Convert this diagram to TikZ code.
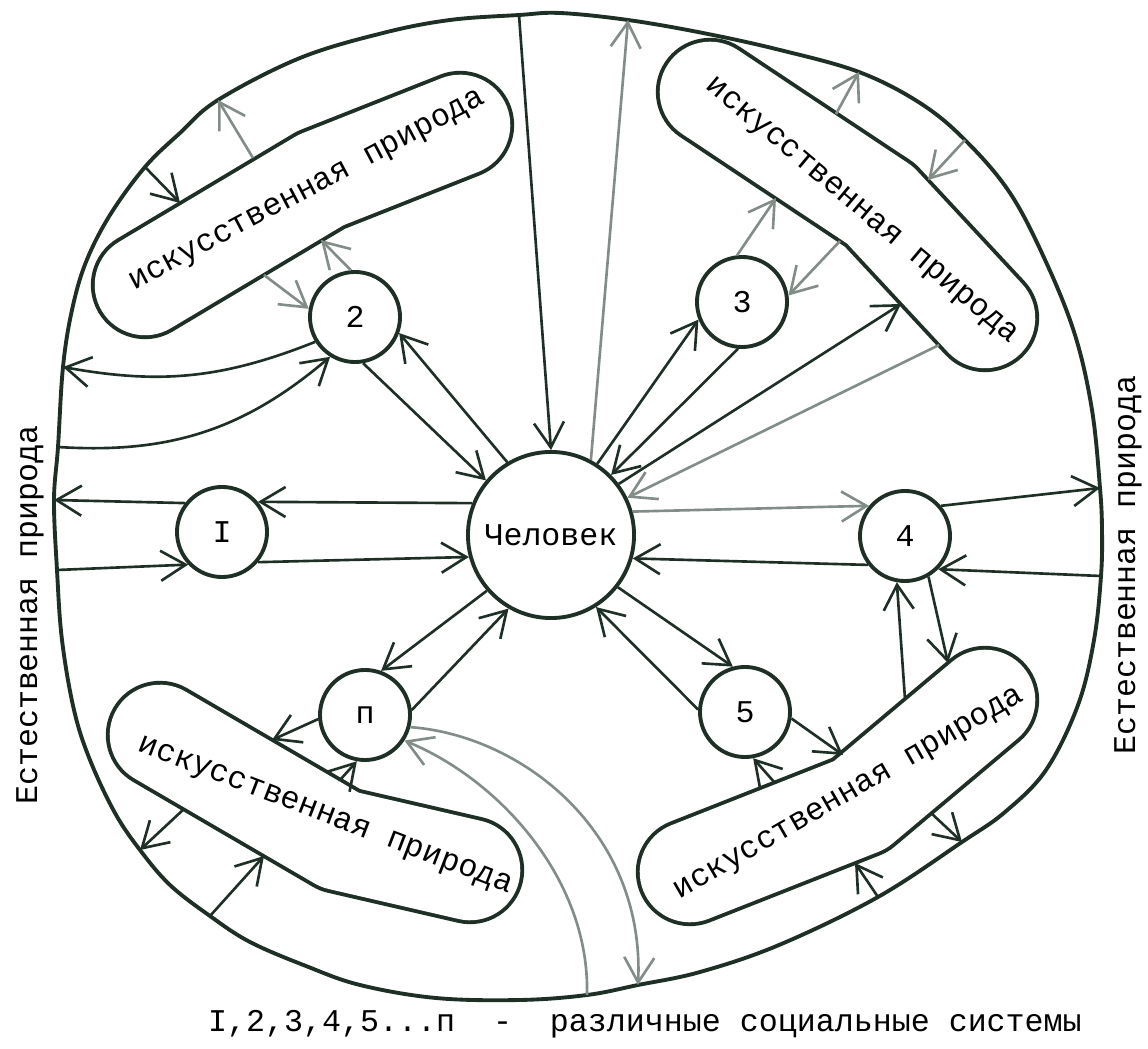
\documentclass[tikz,border=0pt]{standalone}
\usepackage{fontspec}
\setmainfont{Liberation Mono}
\usetikzlibrary{arrows.meta}
\definecolor{ink}{RGB}{30,48,38}

\begin{document}
\begin{tikzpicture}[
    x=0.01cm, y=0.01cm,
    font=\fontsize{9}{11}\selectfont,
    sys/.style={circle, draw=ink, line width=1.1pt, minimum size=0.9cm, inner sep=0pt},
    pill/.style={draw=ink, line width=1.1pt, double=white, double distance=28.6pt, line cap=round, line join=round},
    pilltext/.style={inner sep=0pt},
    rim/.style={draw=ink, line width=1.1pt},
    arrow/.style={-{Straight Barb[length=2.5mm,width=3mm]}, draw=ink, line width=0.75pt},
    faint/.style={arrow, draw=ink!55}
]
\useasboundingbox (0,0) rectangle (1148,-1049);

\draw[rim] plot[smooth cycle, tension=0.6] coordinates {
    (519,-15) (560,-13) (628,-20) (703,-33) (780,-50) (859,-72) (920,-103) (965,-140)
    (1010,-193) (1046,-262) (1075,-335) (1092,-410) (1100,-488) (1102,-530) (1101,-576)
    (1094,-640) (1078,-705) (1046,-770) (1005,-812) (962,-842) (878,-897) (779,-945)
    (700,-972) (638,-985) (587,-995) (520,-1000) (436,-998) (360,-985) (306,-966)
    (250,-942) (210,-916) (170,-885) (140,-850) (115,-813) (90,-760) (74,-710) (62,-640)
    (57,-570) (54,-500) (58,-447) (63,-367) (72,-310) (86,-262) (110,-215) (145,-167)
    (180,-133) (218,-100) (300,-58) (383,-33) (450,-20)};

\coordinate (bt1) at (519,-15);
\coordinate (bt2) at (628,-20);
\coordinate (b2out) at (218,-100);
\coordinate (b2in) at (145,-167);
\coordinate (b3out) at (859,-72);
\coordinate (b3in) at (965,-140);
\coordinate (bL2out) at (63,-367);
\coordinate (bL2in) at (58,-447);
\coordinate (bIout) at (54,-500);
\coordinate (bIin) at (57,-570);
\coordinate (b4out) at (1100,-488);
\coordinate (b4in) at (1101,-576);
\coordinate (bP4out) at (962,-842);
\coordinate (bP4in) at (878,-897);
\coordinate (bnout) at (638,-985);
\coordinate (bnin) at (587,-995);
\coordinate (bPnin) at (210,-916);
\coordinate (bPnout) at (140,-850);

\draw[pill] (145,-285) -- (321,-180) -- (460,-125);
\draw[pill] (710,-92) -- (880,-205) -- (985,-318);
\draw[pill] (690,-872) -- (860,-805) -- (985,-700);
\draw[pill] (160,-735) -- (340,-840) -- (470,-870);

\node[pilltext, rotate=28] (art2) at (308,-192) {искусственная природа};
\node[pilltext, rotate=-40] (art3) at (861,-212) {искусственная природа};
\node[pilltext, rotate=30] (art4) at (850,-795) {искусственная природа};
\node[pilltext, rotate=-21] (artn) at (325,-817) {искусственная природа};

\coordinate (p2q) at (321,-240);
\coordinate (p2r) at (264,-275);
\coordinate (p2ii) at (253,-158);
\coordinate (p2jj) at (180,-203);
\coordinate (p3w) at (776,-198);
\coordinate (p3x) at (840,-241);
\coordinate (p3e) at (901,-304);
\coordinate (p3f) at (939,-345);
\coordinate (p3kk) at (836,-114);
\coordinate (p3ll) at (928,-180);
\coordinate (p4aa) at (905,-699);
\coordinate (p4bb) at (948,-663);
\coordinate (p4cc) at (843,-755);
\coordinate (p4dd) at (775,-783);
\coordinate (p4out) at (931,-813);
\coordinate (p4in) at (855,-863);
\coordinate (pnee) at (272,-740);
\coordinate (pnff) at (340,-780);
\coordinate (pnout) at (184,-809);
\coordinate (pnin) at (264,-856);

\node[sys, minimum size=1.66cm] (hum) at (551,-535) {Человек};
\node[sys] (sysI) at (222,-532) {I};
\node[sys] (sys2) at (355,-317) {2};
\node[sys] (sys3) at (742,-302) {3};
\node[sys] (sys4) at (905,-536) {4};
\node[sys] (sys5) at (745,-712) {5};
\node[sys] (sysn) at (365,-715) {п};

\draw[arrow] (bt1) -- (hum.90);
\draw[faint] (hum.62) -- (bt2);
\draw[arrow] (hum.57) -- (sys3.202);
\draw[arrow] (sys3.265) -- (hum.45);
\draw[arrow] (hum.37) -- (p3e);
\draw[faint] (p3f) -- (hum.26);
\draw[faint] (hum.16) -- (sys4.140);
\draw[arrow] (sys4.218) -- (hum.-16);
\draw[arrow] (hum.-38) -- (sys5.105);
\draw[arrow] (sys5.177) -- (hum.-58);
\draw[arrow] (hum.221) -- (sysn.70);
\draw[arrow] (sysn.6) -- (hum.240);
\draw[arrow] (hum.158) -- (sysI.40);
\draw[arrow] (sysI.-40) -- (hum.195);
\draw[arrow] (sys2.-80) -- (hum.140);
\draw[arrow] (hum.121) -- (sys2.-20);

\draw[faint] (sys2.95) -- (p2q);
\draw[faint] (p2r) -- (sys2.170);
\draw[arrow] (sys2.212) to[bend left=16] (bL2out);
\draw[arrow] (bL2in) to[bend right=22] (sys2.238);
\draw[faint] (p2ii) -- (b2out);
\draw[arrow] (b2in) -- (p2jj);

\draw[arrow] (sysI.142) -- (bIout);
\draw[arrow] (bIin) -- (sysI.224);

\draw[faint] (sys3.96) -- (p3w);
\draw[faint] (p3x) -- (sys3.8);
\draw[faint] (p3kk) -- (b3out);
\draw[faint] (b3in) -- (p3ll);

\draw[arrow] (sys4.40) -- (b4out);
\draw[arrow] (b4in) -- (sys4.-45);
\draw[arrow] (p4aa) -- (sys4.-100);
\draw[arrow] (sys4.-60) -- (p4bb);

\draw[arrow] (sys5.-8) -- (p4cc);
\draw[arrow] (p4dd) -- (sys5.-80);
\draw[arrow] (p4out) -- (bP4out);
\draw[arrow] (bP4in) -- (p4in);

\draw[arrow] (sysn.185) -- (pnee);
\draw[arrow] (pnff) -- (sysn.-100);
\draw[faint] (bnin) .. controls (590,-880) and (500,-780) .. (sysn.-33);
\draw[faint] (sysn.-15) .. controls (520,-735) and (645,-830) .. (bnout);
\draw[arrow] (pnout) -- (bPnout);
\draw[arrow] (bPnin) -- (pnin);

\node[rotate=90] (natL) at (30,-615) {Естественная природа};
\node[rotate=90] (natR) at (1128,-565) {Естественная природа};
\node (legend) at (645,-1024) {I,2,3,4,5...п\ \ -\ \ различные социальные системы};
\end{tikzpicture}
\end{document}
